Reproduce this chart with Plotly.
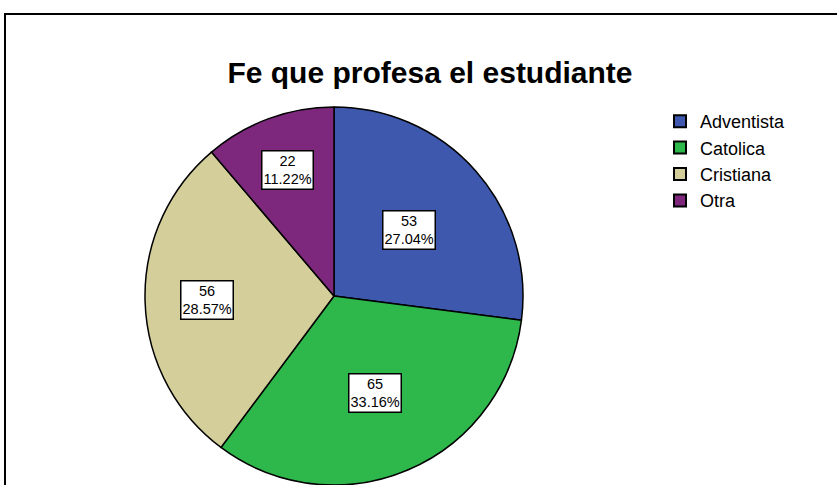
import math
import plotly.graph_objects as go

labels = ["Adventista", "Catolica", "Cristiana", "Otra"]
counts = [53, 65, 56, 22]
colors = ["#3D58AC", "#2EB84B", "#D4CF9A", "#7D287C"]
label_radius_frac = [0.53, 0.56, 0.67, 0.71]

W, H = 837, 485
cx, cy, R = 334, 296, 189

fig = go.Figure()
fig.add_trace(go.Pie(
    labels=labels, values=counts, sort=False, direction="clockwise", rotation=0,
    marker=dict(colors=colors, line=dict(color="black", width=1.5)),
    textinfo="none", hoverinfo="label+value+percent",
    domain=dict(x=[(cx - R) / W, (cx + R) / W], y=[0, 2 * R / H]),
))

total = sum(counts)
cum = 0
for lab, c, f in zip(labels, counts, label_radius_frac):
    mid = (cum + c / 2) / total * 2 * math.pi
    cum += c
    px = cx + f * R * math.sin(mid)
    py = cy - f * R * math.cos(mid)
    fig.add_annotation(
        x=px / W, y=1 - py / H, xref="paper", yref="paper",
        xanchor="center", yanchor="middle",
        text=f"{c}<br>{c / total * 100:.2f}%", showarrow=False,
        font=dict(family="Liberation Sans, Arial", size=14.5, color="black"),
        bgcolor="white", bordercolor="black", borderwidth=1.5, borderpad=1,
        align="center",
    )

fig.add_shape(type="rect", xref="paper", yref="paper",
              x0=5 / W, x1=1.05, y0=-0.05, y1=1 - 14 / H,
              line=dict(color="black", width=2), fillcolor="rgba(0,0,0,0)")

fig.update_layout(
    width=W, height=H,
    margin=dict(l=0, r=0, t=0, b=0),
    paper_bgcolor="white", plot_bgcolor="white",
    title=dict(text="<b>Fe que profesa el estudiante</b>", x=430 / W, xanchor="center",
               y=1 - 72 / H, yanchor="middle",
               font=dict(family="Liberation Sans, Arial", size=30, color="black")),
    legend=dict(x=660 / W, y=1 - 103 / H, xanchor="left", yanchor="top",
                font=dict(family="Liberation Sans, Arial", size=18, color="black"),
                bgcolor="rgba(0,0,0,0)", tracegroupgap=0, itemsizing="constant"),
    showlegend=True,
)

fig.write_html("out.html", config={"displayModeBar": False},
               post_script="document.body.style.margin='0px';document.body.style.padding='0px';")
